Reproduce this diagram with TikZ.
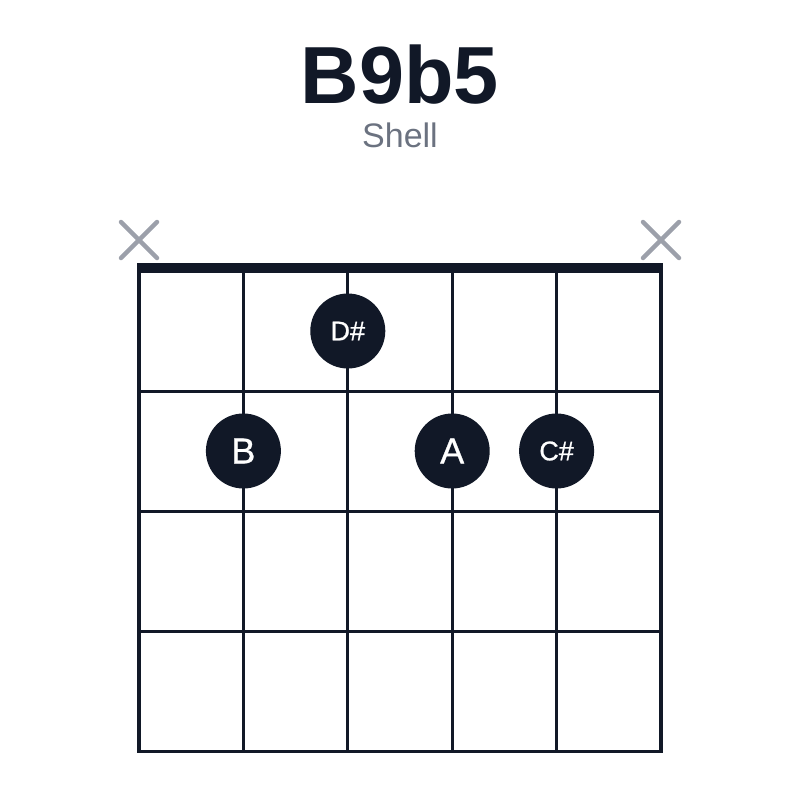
\documentclass[tikz,border=0pt]{standalone}
\usepackage{fontspec}
\setmainfont{Liberation Sans}
\newfontfamily\lblfont{Liberation Sans}[FakeBold=0.8]
\definecolor{ink}{HTML}{111827}
\definecolor{mute}{HTML}{6B7280}
\definecolor{xgray}{HTML}{9CA0AA}
\tikzset{
  fretline/.style={draw=ink, line width=3.3pt},
  nutline/.style={draw=ink, line width=10pt},
  xmark/.style={draw=xgray, line width=4.5pt, line cap=round},
  dot/.style={circle, fill=ink, minimum size=75pt, inner sep=0pt, text=white},
  big/.style={font=\lblfont\fontsize{36}{36}\selectfont},
  small/.style={font=\lblfont\fontsize{27}{27}\selectfont},
}
\begin{document}
\begin{tikzpicture}[x=1pt,y=-1pt]
\useasboundingbox (0,0) rectangle (800,800);
% title
\node[text=ink, font=\fontsize{81}{81}\selectfont\bfseries, anchor=base] (title) at (400,103) {B9b5};
\node[text=mute, font=\fontsize{34}{34}\selectfont, anchor=base] (sub) at (400,147) {Shell};
% strings
\foreach \i/\x in {1/139,2/243.4,3/347.8,4/452.2,5/556.6,6/661} {
  \draw[fretline] (\x,268) -- (\x,752);
}
% frets
\foreach \y in {391.5,511.5,631.5,751.5} {
  \draw[fretline] (137.4,\y) -- (662.6,\y);
}
% nut
\draw[nutline] (137.4,268) -- (662.6,268);
% mutes
\foreach \x in {139,661} {
  \draw[xmark] (\x-18,240-18) -- (\x+18,240+18);
  \draw[xmark] (\x-18,240+18) -- (\x+18,240-18);
}
% dots
\node[dot, small] (ds) at (347.8,331) {D\#};
\node[dot, big] (b) at (243.4,451) {B};
\node[dot, big] (a) at (452.2,451) {A};
\node[dot, small] (cs) at (556.6,451) {C\#};
\end{tikzpicture}
\end{document}
